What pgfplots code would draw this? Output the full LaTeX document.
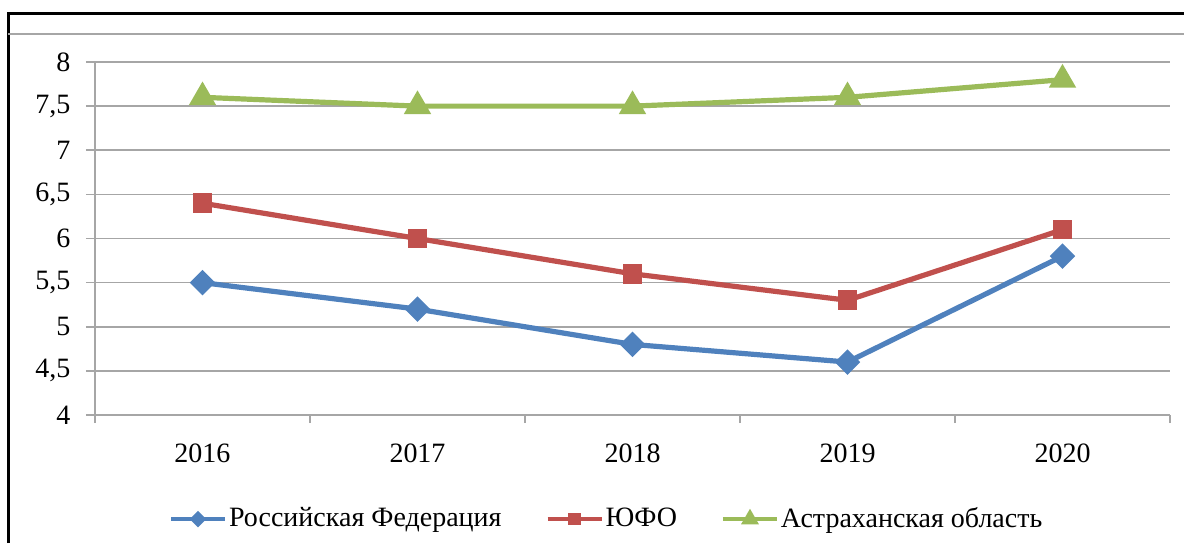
\documentclass[border=0pt]{standalone}
\usepackage{fontspec}
\setmainfont{Liberation Serif}
\usepackage{pgfplots}
\pgfplotsset{compat=1.18}
\definecolor{sBlue}{HTML}{4F81BD}
\definecolor{sRed}{HTML}{C0504D}
\definecolor{sGreen}{HTML}{9BBB59}
\definecolor{gridc}{HTML}{A6A6A6}
\begin{document}
\fontsize{14}{16}\selectfont
\begin{tikzpicture}
\path[use as bounding box] (0pt,0pt) rectangle (592pt,271.5pt);
\draw[line width=1.5pt] (4pt,0pt) -- (4pt,265pt) -- (592pt,265pt);
\draw[gridc, line width=0.8pt] (4pt,254.5pt) -- (592pt,254.5pt);
\begin{axis}[
  at={(47.5pt,64pt)}, anchor=south west,
  scale only axis, width=537.5pt, height=176.5pt,
  xmin=0.5, xmax=5.5, ymin=4, ymax=8,
  axis x line*=bottom, axis y line*=left,
  axis line style={gridc, line width=0.8pt, -},
  xtick={1,2,3,4,5},
  xticklabels={2016,2017,2018,2019,2020},
  minor xtick={0.5,1.5,2.5,3.5,4.5,5.5},
  major x tick style={draw=none},
  minor x tick style={gridc, line width=0.8pt},
  minor tick length=4pt,
  ytick={4,4.5,...,8},
  ymajorgrids, grid style={gridc, line width=0.8pt},
  major y tick style={gridc, line width=0.8pt},
  major tick length=4.5pt,
  tick align=outside,
  /pgf/number format/.cd, use comma, assume math mode=true, /pgfplots/.cd,
  yticklabel style={xshift=-3pt},
  xticklabel style={yshift=-5pt},
  ticklabel style={font=\fontsize{14}{16}\selectfont},
  legend columns=-1,
  legend style={at={(0.476,-0.295)}, anchor=center, draw=none,
    font=\fontsize{14}{16}\selectfont,
    nodes={inner sep=1pt},
    /tikz/every even column/.append style={column sep=21pt}},
  legend image code/.code={\draw[mark repeat=2,mark phase=2,#1,line width=2pt,every mark/.append style={scale=0.6}] plot coordinates {(0pt,0pt) (13.5pt,0pt) (27pt,0pt)};},
  every axis plot/.append style={line width=2.6pt},
]
\addplot[sBlue, mark=square*, mark size=3.2pt, mark options={rotate=45}] coordinates {(1,5.5) (2,5.2) (3,4.8) (4,4.6) (5,5.8)};
\addlegendentry{Российская Федерация}
\addplot[sRed, mark=square*, mark size=3.6pt] coordinates {(1,6.4) (2,6.0) (3,5.6) (4,5.3) (5,6.1)};
\addlegendentry{ЮФО}
\addplot[sGreen, mark=triangle*, mark size=5.3pt] coordinates {(1,7.6) (2,7.5) (3,7.5) (4,7.6) (5,7.8)};
\addlegendentry{Астраханская область}
\end{axis}
\end{tikzpicture}
\end{document}
